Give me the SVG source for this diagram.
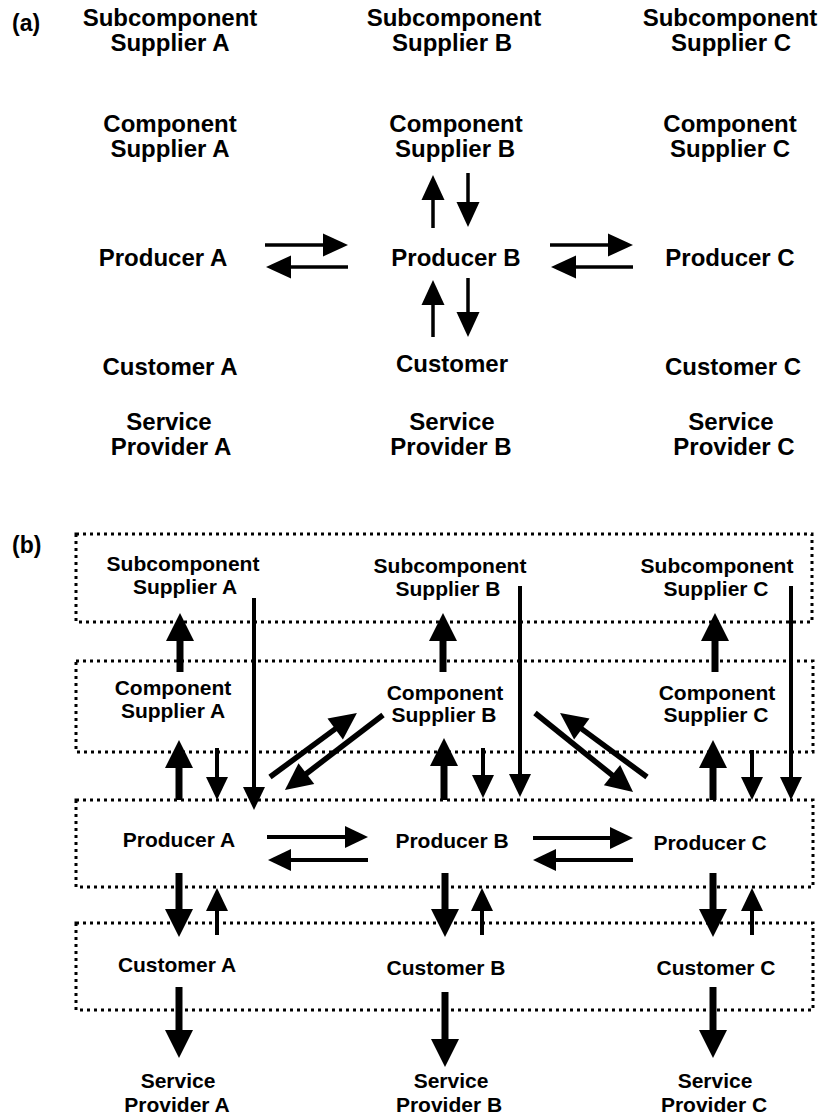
<svg xmlns="http://www.w3.org/2000/svg" width="821" height="1119" viewBox="0 0 821 1119">
  <style>
    text { font-family: "Liberation Sans", Arial, Helvetica, sans-serif; font-weight: bold; fill: #000; text-anchor: middle; }
    .la { font-size: 24px; }
    .lb { font-size: 21px; }
    .tag { font-size: 23px; text-anchor: start; }
    .tier { fill: none; stroke: #000; stroke-width: 3; stroke-dasharray: 3 4; }
    .ca { stroke: #000; stroke-width: 3.5; marker-end: url(#ha); }
    .thick { stroke: #000; stroke-width: 7; marker-end: url(#hb); }
    .thin { stroke: #000; stroke-width: 4; marker-end: url(#hs); }
    .diag { stroke: #000; stroke-width: 5.5; marker-end: url(#hm); }
  </style>
  <defs>
    <marker id="ha" markerUnits="userSpaceOnUse" orient="auto" refX="0" refY="0" markerWidth="1" markerHeight="1" overflow="visible">
      <path d="M-1,-11.5 L24,0 L-1,11.5 z" fill="#000"/>
    </marker>
    <marker id="hb" markerUnits="userSpaceOnUse" orient="auto" refX="0" refY="0" markerWidth="1" markerHeight="1" overflow="visible">
      <path d="M-1,-14 L27,0 L-1,14 z" fill="#000"/>
    </marker>
    <marker id="hs" markerUnits="userSpaceOnUse" orient="auto" refX="0" refY="0" markerWidth="1" markerHeight="1" overflow="visible">
      <path d="M-1,-11 L22,0 L-1,11 z" fill="#000"/>
    </marker>
    <marker id="hm" markerUnits="userSpaceOnUse" orient="auto" refX="0" refY="0" markerWidth="1" markerHeight="1" overflow="visible">
      <path d="M-1,-13 L26,0 L-1,13 z" fill="#000"/>
    </marker>
  </defs>

  <!-- panel (a) -->
  <text class="tag" x="12" y="31">(a)</text>
  <g id="a-sub-a"><text class="la" x="170" y="26">Subcomponent</text><text class="la" x="170" y="51">Supplier A</text></g>
  <g id="a-sub-b"><text class="la" x="454" y="26">Subcomponent</text><text class="la" x="452" y="51">Supplier B</text></g>
  <g id="a-sub-c"><text class="la" x="730" y="26">Subcomponent</text><text class="la" x="731" y="51">Supplier C</text></g>
  <g id="a-comp-a"><text class="la" x="170" y="132">Component</text><text class="la" x="170" y="157">Supplier A</text></g>
  <g id="a-comp-b"><text class="la" x="456" y="132">Component</text><text class="la" x="455" y="157">Supplier B</text></g>
  <g id="a-comp-c"><text class="la" x="730" y="132">Component</text><text class="la" x="730" y="157">Supplier C</text></g>
  <g id="a-prod-a"><text class="la" x="163" y="266">Producer A</text></g>
  <g id="a-prod-b"><text class="la" x="456" y="266">Producer B</text></g>
  <g id="a-prod-c"><text class="la" x="730" y="266">Producer C</text></g>
  <g id="a-cust-a"><text class="la" x="170" y="375">Customer A</text></g>
  <g id="a-cust-b"><text class="la" x="452" y="372">Customer</text></g>
  <g id="a-cust-c"><text class="la" x="733" y="375">Customer C</text></g>
  <g id="a-serv-a"><text class="la" x="169" y="430">Service</text><text class="la" x="171" y="455">Provider A</text></g>
  <g id="a-serv-b"><text class="la" x="452" y="430">Service</text><text class="la" x="451" y="455">Provider B</text></g>
  <g id="a-serv-c"><text class="la" x="731" y="430">Service</text><text class="la" x="734" y="455">Provider C</text></g>

  <g id="a-connectors">
    <line class="ca" x1="265" y1="245" x2="324" y2="245"/>
    <line class="ca" x1="348" y1="267" x2="290" y2="267"/>
    <line class="ca" x1="550" y1="245" x2="609" y2="245"/>
    <line class="ca" x1="633" y1="267" x2="575" y2="267"/>
    <line class="ca" x1="433" y1="228" x2="433" y2="199"/>
    <line class="ca" x1="468" y1="173" x2="468" y2="203"/>
    <line class="ca" x1="433" y1="337" x2="433" y2="304"/>
    <line class="ca" x1="468" y1="278" x2="468" y2="313"/>
  </g>

  <!-- panel (b) -->
  <text class="tag" x="12" y="553">(b)</text>
  <g id="tiers">
    <rect class="tier" x="76" y="534" width="736" height="88"/>
    <rect class="tier" x="76" y="661" width="737" height="91"/>
    <rect class="tier" x="76" y="800" width="737" height="87"/>
    <rect class="tier" x="76" y="923" width="737" height="87"/>
  </g>

  <g id="b-sub-a"><text class="lb" x="183" y="571">Subcomponent</text><text class="lb" x="185" y="594">Supplier A</text></g>
  <g id="b-sub-b"><text class="lb" x="450" y="573">Subcomponent</text><text class="lb" x="448" y="596">Supplier B</text></g>
  <g id="b-sub-c"><text class="lb" x="717" y="573">Subcomponent</text><text class="lb" x="716" y="596">Supplier C</text></g>
  <g id="b-comp-a"><text class="lb" x="173" y="695">Component</text><text class="lb" x="173" y="718">Supplier A</text></g>
  <g id="b-comp-b"><text class="lb" x="445" y="700">Component</text><text class="lb" x="444" y="722">Supplier B</text></g>
  <g id="b-comp-c"><text class="lb" x="717" y="700">Component</text><text class="lb" x="716" y="722">Supplier C</text></g>
  <g id="b-prod-a"><text class="lb" x="179" y="847">Producer A</text></g>
  <g id="b-prod-b"><text class="lb" x="452" y="848">Producer B</text></g>
  <g id="b-prod-c"><text class="lb" x="710" y="850">Producer C</text></g>
  <g id="b-cust-a"><text class="lb" x="177" y="972">Customer A</text></g>
  <g id="b-cust-b"><text class="lb" x="446" y="975">Customer B</text></g>
  <g id="b-cust-c"><text class="lb" x="716" y="975">Customer C</text></g>
  <g id="b-serv-a"><text class="lb" x="178" y="1088">Service</text><text class="lb" x="177" y="1112">Provider A</text></g>
  <g id="b-serv-b"><text class="lb" x="451" y="1088">Service</text><text class="lb" x="449" y="1112">Provider B</text></g>
  <g id="b-serv-c"><text class="lb" x="715" y="1088">Service</text><text class="lb" x="714" y="1112">Provider C</text></g>

  <g id="b-connectors">
    <!-- heavy vertical flows -->
    <line class="thick" x1="180" y1="672" x2="180" y2="640"/>
    <line class="thick" x1="179" y1="800" x2="179" y2="767"/>
    <line class="thick" x1="179" y1="873" x2="179" y2="910"/>
    <line class="thick" x1="179" y1="987" x2="179" y2="1031"/>
    <line class="thick" x1="443" y1="672" x2="443" y2="640"/>
    <line class="thick" x1="444" y1="800" x2="444" y2="765"/>
    <line class="thick" x1="445" y1="873" x2="445" y2="910"/>
    <line class="thick" x1="445" y1="992" x2="445" y2="1040"/>
    <line class="thick" x1="715" y1="672" x2="715" y2="640"/>
    <line class="thick" x1="713" y1="800" x2="713" y2="767"/>
    <line class="thick" x1="713" y1="873" x2="713" y2="910"/>
    <line class="thick" x1="713" y1="987" x2="713" y2="1031"/>
    <!-- light vertical flows -->
    <line class="thin" x1="217" y1="748" x2="217" y2="778"/>
    <line class="thin" x1="254" y1="598" x2="254" y2="788"/>
    <line class="thin" x1="217" y1="935" x2="217" y2="910"/>
    <line class="thin" x1="483" y1="748" x2="483" y2="776"/>
    <line class="thin" x1="520" y1="586" x2="520" y2="775"/>
    <line class="thin" x1="482" y1="935" x2="482" y2="910"/>
    <line class="thin" x1="752" y1="750" x2="752" y2="778"/>
    <line class="thin" x1="791" y1="586" x2="791" y2="778"/>
    <line class="thin" x1="752" y1="935" x2="752" y2="910"/>
    <!-- producer to producer -->
    <line class="thin" x1="267" y1="837" x2="346" y2="837"/>
    <line class="thin" x1="368" y1="860" x2="290" y2="860"/>
    <line class="thin" x1="533" y1="838" x2="611" y2="838"/>
    <line class="thin" x1="633" y1="860" x2="555" y2="860"/>
    <!-- cross links with component supplier B -->
    <line class="diag" x1="270" y1="777" x2="336" y2="728.4"/>
    <line class="diag" x1="383" y1="715" x2="305.6" y2="774.2"/>
    <line class="diag" x1="535" y1="713" x2="612.8" y2="775.7"/>
    <line class="diag" x1="647" y1="777" x2="581" y2="728.4"/>
  </g>
</svg>
